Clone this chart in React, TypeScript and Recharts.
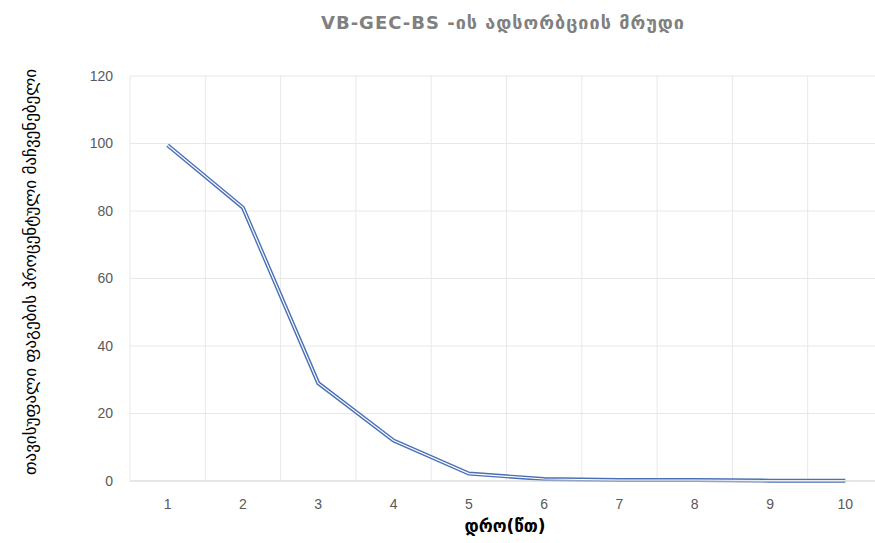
import { LineChart, Line, XAxis, YAxis, CartesianGrid } from "recharts";

const minutes = [1, 2, 3, 4, 5, 6, 7, 8, 9, 10];
const freePhagePercent = [99.5, 81, 29, 12, 2.2, 0.6, 0.3, 0.3, 0.1, 0.1];
const yTicks = [0, 20, 40, 60, 80, 100, 120];
const categoryEdges = [0.5, 1.5, 2.5, 3.5, 4.5, 5.5, 6.5, 7.5, 8.5, 9.5, 10.5];

const data = minutes.map((t, i) => ({ t, v: freePhagePercent[i] }));

const geo = "'DejaVu Sans', 'Noto Sans', sans-serif";
const tickStyle = { fontSize: 14, fill: "#595959", fontFamily: "'Liberation Sans', Arial, sans-serif" };

export default function App() {
  return (
    <div style={{ position: "absolute", left: 0, top: 0, width: 875, height: 543, overflow: "hidden", background: "#fff" }}>
      <LineChart width={893} height={543} data={data} margin={{ top: 76, right: 10, left: 0, bottom: 32 }}>
        <text x={503} y={29} textAnchor="middle" fontSize={18} fontWeight="bold" fill="#808080" fontFamily={geo} letterSpacing={1}>
          VB-GEC-BS -ის ადსორბციის მრუდი
        </text>
        <text
          x={0}
          y={0}
          transform="translate(36, 272) rotate(-90)"
          textAnchor="middle"
          fontSize={17}
          fill="#000"
          fontFamily={geo}
        >
          თავისუფალი ფაგების პროცენტული მაჩვენებელი
        </text>
        <text x={505} y={532} textAnchor="middle" fontSize={17} fontWeight="bold" fill="#000" fontFamily={geo}>
          დრო(წთ)
        </text>
        <CartesianGrid xAxisId="grid" horizontal={false} stroke="#e8e8e8" />
        <CartesianGrid vertical={false} stroke="#e8e8e8" />
        <XAxis
          xAxisId="grid"
          dataKey="t"
          type="number"
          domain={[0.5, 10.5]}
          ticks={categoryEdges}
          hide
        />
        <XAxis
          dataKey="t"
          type="number"
          domain={[0.5, 10.5]}
          ticks={minutes}
          tickLine={false}
          axisLine={{ stroke: "#d9d9d9" }}
          tick={tickStyle}
          tickMargin={12}
          interval={0}
        />
        <YAxis
          width={130}
          domain={[0, 120]}
          ticks={yTicks}
          tickLine={false}
          axisLine={false}
          tick={tickStyle}
          tickMargin={11}
        />
        <Line type="linear" dataKey="v" stroke="#4a70b5" strokeWidth={4} dot={false} isAnimationActive={false} />
        <Line type="linear" dataKey="v" stroke="#ffffff" strokeWidth={1.2} dot={false} isAnimationActive={false} />
      </LineChart>
    </div>
  );
}
